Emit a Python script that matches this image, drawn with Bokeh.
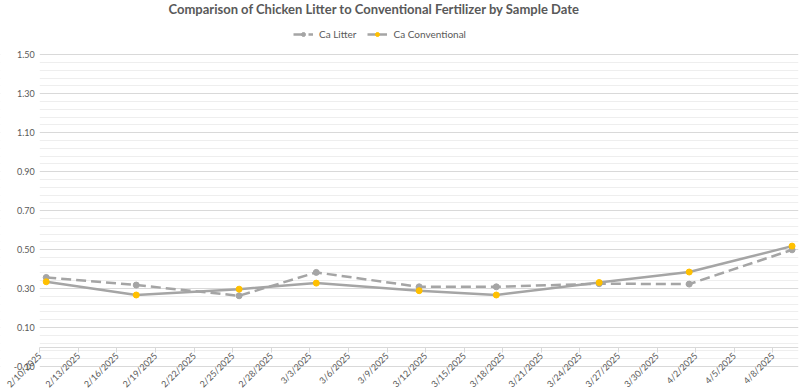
import pandas as pd
from bokeh.plotting import figure
from bokeh.models import (FixedTicker, NumeralTickFormatter, Range1d, Legend,
                          LegendItem, Label, BoxAnnotation)
from bokeh.embed import file_html
from bokeh.resources import INLINE

# ---------------- data ----------------
sample_dates = ["2025-02-10", "2025-02-17", "2025-02-25", "2025-03-03", "2025-03-11",
                "2025-03-17", "2025-03-25", "2025-04-01", "2025-04-09"]
ca_litter = [0.357, 0.318, 0.263, 0.383, 0.309, 0.309, 0.325, 0.323, 0.499]
ca_conventional = [0.335, 0.267, 0.297, 0.328, 0.289, 0.267, 0.331, 0.385, 0.518]

x_tick_dates = ["2025-02-10", "2025-02-13", "2025-02-16", "2025-02-19", "2025-02-22",
                "2025-02-25", "2025-02-28", "2025-03-03", "2025-03-06", "2025-03-09",
                "2025-03-12", "2025-03-15", "2025-03-18", "2025-03-21", "2025-03-24",
                "2025-03-27", "2025-03-30", "2025-04-02", "2025-04-05", "2025-04-08"]
x_tick_labels = ["2/10/2025", "2/13/2025", "2/16/2025", "2/19/2025", "2/22/2025",
                 "2/25/2025", "2/28/2025", "3/3/2025", "3/6/2025", "3/9/2025",
                 "3/12/2025", "3/15/2025", "3/18/2025", "3/21/2025", "3/24/2025",
                 "3/27/2025", "3/30/2025", "4/2/2025", "4/5/2025", "4/8/2025"]
y_ticks = [-0.10, 0.10, 0.30, 0.50, 0.70, 0.90, 1.10, 1.30, 1.50]

title_text = "Comparison of Chicken Litter to Conventional Fertilizer by Sample Date"
series_names = ["Ca Litter", "Ca Conventional"]

# ---------------- layout constants (pixels) ----------------
W, H = 803, 388
RIGHT = 5
PLOT_LEFT, PLOT_RIGHT = 39.3, W - RIGHT       # pixel columns of the axis ends
GRID_TOP, GRID_BOTTOM = 54.3, 366.0           # pixel rows of 1.50 and -0.10

def to_ms(s):
    return int(pd.Timestamp(s).value // 10**6)

DAY = 86400000
# Excel date axis "between tick marks": each point sits mid-day
xs = [to_ms(d) + DAY // 2 for d in sample_dates]
tick_ms = [to_ms(d) for d in x_tick_dates]
x_start = to_ms(sample_dates[0])
x_end = to_ms(sample_dates[-1]) + DAY

# The frame fills the canvas (so nothing is clipped); the ranges are padded
# so that the axes land where the reference draws them.
ms_per_px = (x_end - x_start) / (PLOT_RIGHT - PLOT_LEFT)
x_lo = x_start - PLOT_LEFT * ms_per_px
Y_MIN, Y_MAX = y_ticks[0], y_ticks[-1]
ppu = (GRID_BOTTOM - GRID_TOP) / (Y_MAX - Y_MIN)
y_lo = Y_MIN - (H - GRID_BOTTOM) / ppu
y_hi = Y_MAX + GRID_TOP / ppu

FONT = "Lato"
TXT = "#595959"
GRAY = "#a5a5a5"
GOLD = "#ffc000"

p = figure(width=W, height=H, x_axis_type="datetime",
           x_range=Range1d(x_lo, x_end), y_range=Range1d(y_lo, y_hi),
           output_backend="svg", toolbar_location=None,
           min_border_left=0, min_border_right=RIGHT, min_border_top=0,
           min_border_bottom=0)
p.outline_line_color = None
p.background_fill_color = "white"
p.border_fill_color = "white"

# grid
minor = []
for a, b in zip(y_ticks[:-1], y_ticks[1:]):
    for k in range(1, 5):
        minor.append(round(a + (b - a) * k / 5, 4))
p.ygrid.ticker = FixedTicker(ticks=y_ticks, minor_ticks=minor)
p.ygrid.grid_line_color = "#d9d9d9"
p.ygrid.minor_grid_line_color = "#eeeeee"
p.xgrid.grid_line_color = None
# hide the grid lines left of the plot area
p.add_layout(BoxAnnotation(right=x_start, fill_color="white", fill_alpha=1,
                           line_color=None, level="underlay"))

# series
l1 = p.line(xs, ca_litter, line_color=GRAY, line_width=2.5, line_dash="10 5")
s1 = p.scatter(xs, ca_litter, size=6, fill_color=GRAY, line_color=GRAY)
l2 = p.line(xs, ca_conventional, line_color=GRAY, line_width=2.5)
s2 = p.scatter(xs, ca_conventional, size=6, fill_color=GOLD, line_color=GOLD)

# y axis at the left end of the date axis
p.yaxis.ticker = FixedTicker(ticks=y_ticks, minor_ticks=minor)
p.yaxis.fixed_location = x_start
p.yaxis.formatter = NumeralTickFormatter(format="0.00")
p.yaxis.axis_line_color = None
p.yaxis.major_tick_line_color = None
p.yaxis.minor_tick_line_color = None
p.yaxis.major_tick_out = 0
p.yaxis.minor_tick_out = 0
p.yaxis.major_label_standoff = 5
p.yaxis.major_label_text_font = FONT
p.yaxis.major_label_text_font_size = "9px"
p.yaxis.major_label_text_color = TXT

# x axis (crosses at y = 0)
p.xaxis.ticker = FixedTicker(ticks=tick_ms, minor_ticks=[])
p.xaxis.major_label_overrides = {t: lab for t, lab in zip(tick_ms, x_tick_labels)}
p.xaxis.fixed_location = 0
p.xaxis.bounds = (x_start, x_end)
p.xaxis.major_label_orientation = 0.785398
p.xaxis.axis_line_color = "#d9d9d9"
p.xaxis.major_tick_line_color = "#d9d9d9"
p.xaxis.major_tick_out = 5
p.xaxis.major_tick_in = 0
p.xaxis.minor_tick_line_color = None
p.xaxis.major_label_standoff = 2
p.xaxis.major_label_text_font = FONT
p.xaxis.major_label_text_font_size = "9px"
p.xaxis.major_label_text_color = TXT

# title (screen units are measured from the frame's bottom-left corner)
p.add_layout(Label(x=168, y=H, x_units="screen", y_units="screen",
                   text=title_text, text_align="left", text_baseline="top",
                   text_font=FONT, text_font_style="bold", text_font_size="13px",
                   text_color=TXT))

# legend
legend = Legend(items=[LegendItem(label=series_names[0], renderers=[l1, s1]),
                       LegendItem(label=series_names[1], renderers=[l2, s2])],
                orientation="horizontal", location=(293, H - 40),
                padding=0, margin=0, spacing=11, label_standoff=6,
                glyph_width=20, glyph_height=10,
                border_line_color=None, background_fill_alpha=0,
                label_text_font=FONT, label_text_font_size="10px",
                label_text_color=TXT)
p.add_layout(legend)

open("out.html", "w").write(file_html(p, INLINE))
